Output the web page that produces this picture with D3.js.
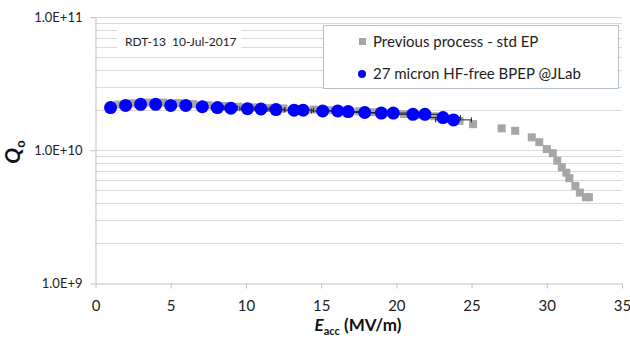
<!DOCTYPE html>
<html>
<head>
<meta charset="utf-8">
<script src="https://cdn.jsdelivr.net/npm/d3@7"></script>
<style>
  body { margin: 0; background: #fff; }
  svg { display: block; font-family: Lato, 'Open Sans', sans-serif; }
</style>
</head>
<body>
<div id="chart"></div>
<script>
// previous process - std EP (grey squares)
const prevE = [1.5, 2.5, 3.5, 4.5, 5.5, 6.5, 7.5, 8.5, 9.5, 10.5, 11.5, 12.5, 13.5, 14.5, 15.5, 16.5, 17.5, 18.5, 19.5, 20.5, 21.5, 22.5, 23.0, 23.5, 24.2,
  25.1, 27.0, 27.9, 29.0, 29.5, 30.0, 30.4, 30.7, 31.0, 31.3, 31.5, 31.9, 32.2, 32.6, 32.8];
const prevQ = [2.20e10, 2.25e10, 2.28e10, 2.28e10, 2.26e10, 2.22e10, 2.18e10, 2.15e10, 2.12e10, 2.10e10, 2.08e10, 2.06e10, 2.04e10, 2.02e10, 2.00e10,
  1.98e10, 1.96e10, 1.93e10, 1.90e10, 1.87e10, 1.84e10, 1.80e10, 1.76e10, 1.72e10, 1.66e10,
  1.57e10, 1.46e10, 1.40e10, 1.25e10, 1.15e10, 1.02e10, 9.5e9, 8.35e9, 7.45e9, 6.79e9, 6.17e9, 5.40e9, 4.81e9, 4.44e9, 4.44e9];

// 27 micron HF-free BPEP @JLab (blue circles)
const bpepE = [1.0, 2.0, 3.0, 4.0, 5.0, 6.0, 7.1, 8.1, 9.0, 10.1, 11.0, 12.0, 13.2, 13.8, 15.1, 16.1, 16.8, 17.9, 19.0, 19.8, 21.1, 21.9, 23.1, 23.8];
const bpepQ = [2.09e10, 2.17e10, 2.21e10, 2.21e10, 2.17e10, 2.17e10, 2.12e10, 2.09e10, 2.07e10, 2.05e10, 2.04e10, 2.02e10, 2.00e10, 2.00e10,
  1.97e10, 1.97e10, 1.95e10, 1.92e10, 1.90e10, 1.90e10, 1.86e10, 1.86e10, 1.76e10, 1.69e10];
const bpepErr = 0.05; // relative error on Eacc

const xTicks = [0, 5, 10, 15, 20, 25, 30, 35];
const yMajor = [1e9, 1e10, 1e11];
const yLabels = ['1.0E+9', '1.0E+10', '1.0E+11'];
const legendLabels = ['Previous process - std EP', '27 micron HF-free BPEP @JLab'];
const note = 'RDT-13  10-Jul-2017';

const width = 630, height = 342;
const svg = d3.select('#chart').append('svg')
  .attr('width', width)
  .attr('height', height);

const x = d3.scaleLinear().domain([0, 35]).range([95.5, 622]);
const y = d3.scaleLog().domain([1e9, 1e11]).range([283.5, 17]);

// minor + major gridlines
const gridVals = [];
[1e9, 1e10].forEach(d => { for (let k = 1; k <= 10; k++) gridVals.push(d * k); });
svg.append('g')
  .selectAll('line')
  .data(Array.from(new Set(gridVals)).filter(v => v > 1e9))
  .enter()
  .append('line')
  .attr('x1', x(0))
  .attr('x2', x(35))
  .attr('y1', d => Math.round(y(d)) + 0.5)
  .attr('y2', d => Math.round(y(d)) + 0.5)
  .style('stroke', '#d9d9d9')
  .style('stroke-width', 1);

// y axis
const yAxis = d3.axisLeft(y).tickValues(yMajor).tickFormat((d, i) => yLabels[i]).tickSize(5).tickSizeOuter(0);
const gy = svg.append('g').attr('transform', `translate(${x(0)},0)`).call(yAxis);
gy.select('.domain').style('stroke', '#bfbfbf');
gy.selectAll('.tick line').style('stroke', '#bfbfbf');
gy.selectAll('.tick text')
  .attr('x', -13)
  .style('font-size', '13px')
  .style('fill', '#222')
  .style('font-family', 'Lato, sans-serif');

// x axis
const xAxis = d3.axisBottom(x).tickValues(xTicks).tickSize(5).tickSizeOuter(0);
const gx = svg.append('g').attr('transform', `translate(0,${y(1e9)})`).call(xAxis);
gx.select('.domain').style('stroke', '#bfbfbf');
gx.selectAll('.tick line').style('stroke', '#bfbfbf');
gx.selectAll('.tick text')
  .attr('y', 17)
  .style('font-size', '15px')
  .style('fill', '#222')
  .style('font-family', 'Lato, sans-serif');

// note box
svg.append('rect')
  .attr('x', 117)
  .attr('y', 28)
  .attr('width', 124)
  .attr('height', 27)
  .attr('fill', '#fff');
svg.append('text')
  .attr('x', 125)
  .attr('y', 46)
  .style('font-size', '12px')
  .style('white-space', 'pre')
  .style('fill', '#222')
  .text(note);

// previous process squares
const sq = 8;
svg.append('g')
  .selectAll('rect')
  .data(prevE.map((e, i) => [e, prevQ[i]]))
  .enter()
  .append('rect')
  .attr('x', d => x(d[0]) - sq / 2)
  .attr('y', d => y(d[1]) - sq / 2)
  .attr('width', sq)
  .attr('height', sq)
  .attr('fill', '#a6a6a6');

// horizontal error bars on BPEP
const bp = bpepE.map((e, i) => [e, bpepQ[i]]);
const eb = svg.append('g').style('stroke', '#222').style('stroke-width', 1);
eb.selectAll('line.bar')
  .data(bp)
  .enter()
  .append('line')
  .attr('class', 'bar')
  .attr('x1', d => x(d[0] * (1 - bpepErr)))
  .attr('x2', d => x(d[0] * (1 + bpepErr)))
  .attr('y1', d => y(d[1]))
  .attr('y2', d => y(d[1]));
eb.selectAll('line.cap')
  .data(bp.flatMap(d => [[d[0] * (1 - bpepErr), d[1]], [d[0] * (1 + bpepErr), d[1]]]))
  .enter()
  .append('line')
  .attr('class', 'cap')
  .attr('x1', d => x(d[0]))
  .attr('x2', d => x(d[0]))
  .attr('y1', d => y(d[1]) - 2.5)
  .attr('y2', d => y(d[1]) + 2.5);

// BPEP circles
svg.append('g')
  .selectAll('circle')
  .data(bp)
  .enter()
  .append('circle')
  .attr('cx', d => x(d[0]))
  .attr('cy', d => y(d[1]))
  .attr('r', 6.5)
  .attr('fill', '#0000ff');

// legend
const lg = svg.append('g');
lg.append('rect')
  .attr('x', 323.5)
  .attr('y', 25.5)
  .attr('width', 295)
  .attr('height', 63)
  .attr('fill', '#fff')
  .style('stroke', '#b4c0cc');
lg.append('rect')
  .attr('x', 359)
  .attr('y', 38)
  .attr('width', 7)
  .attr('height', 7)
  .attr('fill', '#a6a6a6');
lg.append('circle')
  .attr('cx', 362)
  .attr('cy', 74)
  .attr('r', 4)
  .attr('fill', '#0000ff');
lg.selectAll('text')
  .data(legendLabels)
  .enter()
  .append('text')
  .attr('x', 373)
  .attr('y', (d, i) => 47 + i * 32)
  .style('font-size', '15px')
  .style('fill', '#222')
  .text(d => d);

// axis titles
const xt = svg.append('text')
  .attr('x', 358)
  .attr('y', 331)
  .attr('text-anchor', 'middle')
  .style('font-size', '17px')
  .style('font-weight', 'bold')
  .style('fill', '#111');
xt.append('tspan').style('font-style', 'italic').text('E');
xt.append('tspan').attr('dy', 4).style('font-size', '11px').text('acc');
xt.append('tspan').attr('dy', -4).text(' (MV/m)');

const yt = svg.append('text')
  .attr('transform', 'translate(20,152) rotate(-90)')
  .attr('text-anchor', 'middle')
  .style('font-size', '21px')
  .style('font-weight', 'bold')
  .style('font-style', 'italic')
  .style('fill', '#111');
yt.append('tspan').text('Q');
yt.append('tspan').attr('dy', 5).style('font-size', '13px').style('font-style', 'normal').text('o');
</script>
</body>
</html>
